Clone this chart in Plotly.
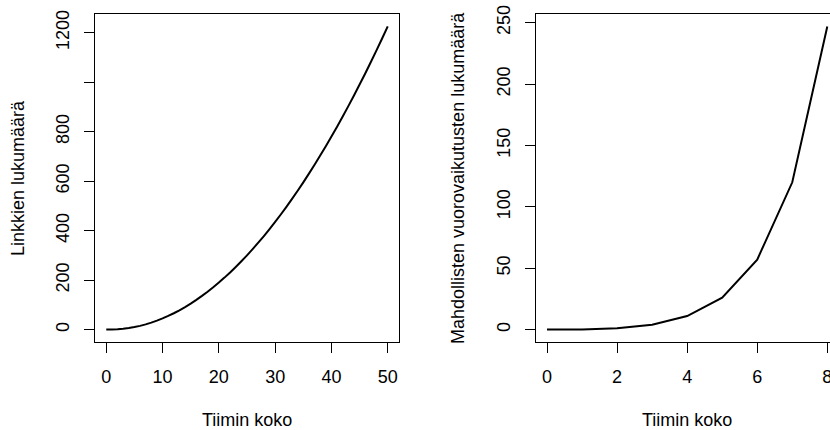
import plotly.graph_objects as go

# Left panel data: team size vs number of links
team_size_links = list(range(0, 51))
links = [0, 0, 1, 3, 6, 10, 15, 21, 28, 36, 45, 55, 66, 78, 91, 105, 120, 136, 153, 171,
         190, 210, 231, 253, 276, 300, 325, 351, 378, 406, 435, 465, 496, 528, 561, 595,
         630, 666, 703, 741, 780, 820, 861, 903, 946, 990, 1035, 1081, 1128, 1176, 1225]

# Right panel data: team size vs possible interactions
team_size_inter = [0, 1, 2, 3, 4, 5, 6, 7, 8]
interactions = [0, 0, 1, 4, 11, 26, 57, 120, 247]

left_yticks = [0, 200, 400, 600, 800, 1000, 1200]
left_yticktext = ["0", "200", "400", "600", "800", "", "1200"]
left_xticks = [0, 10, 20, 30, 40, 50]
right_yticks = [0, 50, 100, 150, 200, 250]
right_xticks = [0, 2, 4, 6, 8]

W, H = 830, 430
FONT = "Liberation Sans, Arial, sans-serif"
FS = 18

fig = go.Figure()
fig.add_trace(go.Scatter(x=team_size_links, y=links, mode="lines",
                         line=dict(color="black", width=2, simplify=False),
                         xaxis="x", yaxis="y", showlegend=False))
fig.add_trace(go.Scatter(x=team_size_inter, y=interactions, mode="lines",
                         line=dict(color="black", width=2, simplify=False),
                         xaxis="x2", yaxis="y2", showlegend=False))

def px_x(p):
    return p / W

def px_y(p):
    return 1 - p / H

ydom = [px_y(341.7), px_y(14.3)]

axis_common = dict(showgrid=False, zeroline=False, showline=True, linecolor="black",
                   linewidth=1, ticks="outside", ticklen=10, tickwidth=1,
                   tickcolor="black", tickfont=dict(family=FONT, size=FS, color="black"),
                   automargin=False, ticklabeloverflow="allow")

fig.update_layout(
    width=W, height=H,
    margin=dict(l=0, r=0, t=0, b=0),
    paper_bgcolor="white", plot_bgcolor="white",
    font=dict(family=FONT, size=FS, color="black"),
    xaxis=dict(domain=[px_x(95), px_x(399)], range=[-2, 52], tickvals=left_xticks,
               mirror=True, anchor="y", ticklabelstandoff=9, **axis_common),
    yaxis=dict(domain=ydom, range=[-49, 1274], tickvals=left_yticks,
               ticktext=left_yticktext, tickangle=-90, mirror=True, anchor="x",
               ticklabelstandoff=8, **axis_common),
    xaxis2=dict(domain=[px_x(535.8), 1.0], range=[-0.32, 8.077], tickvals=right_xticks,
                mirror=True, anchor="y2", ticklabelstandoff=9, **axis_common),
    yaxis2=dict(domain=ydom, range=[-9.88, 256.88], tickvals=right_yticks,
                tickangle=-90, anchor="x2", ticklabelstandoff=8, **axis_common),
    annotations=[
        dict(text="Tiimin koko", x=px_x(247), y=px_y(420), xref="paper", yref="paper",
             showarrow=False, xanchor="center", yanchor="middle",
             font=dict(family=FONT, size=FS, color="black")),
        dict(text="Tiimin koko", x=px_x(687), y=px_y(420), xref="paper", yref="paper",
             showarrow=False, xanchor="center", yanchor="middle",
             font=dict(family=FONT, size=FS, color="black")),
        dict(text="Linkkien lukumäärä", x=px_x(18), y=px_y(178), xref="paper",
             yref="paper", showarrow=False, textangle=-90, xanchor="center",
             yanchor="middle", font=dict(family=FONT, size=FS, color="black")),
        dict(text="Mahdollisten vuorovaikutusten lukumäärä", x=px_x(458), y=px_y(178),
             xref="paper", yref="paper", showarrow=False, textangle=-90,
             xanchor="center", yanchor="middle",
             font=dict(family=FONT, size=FS, color="black")),
    ],
)

fig.write_html("out.html", config={"displayModeBar": False},
               post_script="document.body.style.margin='0';document.body.style.overflow='hidden';")
